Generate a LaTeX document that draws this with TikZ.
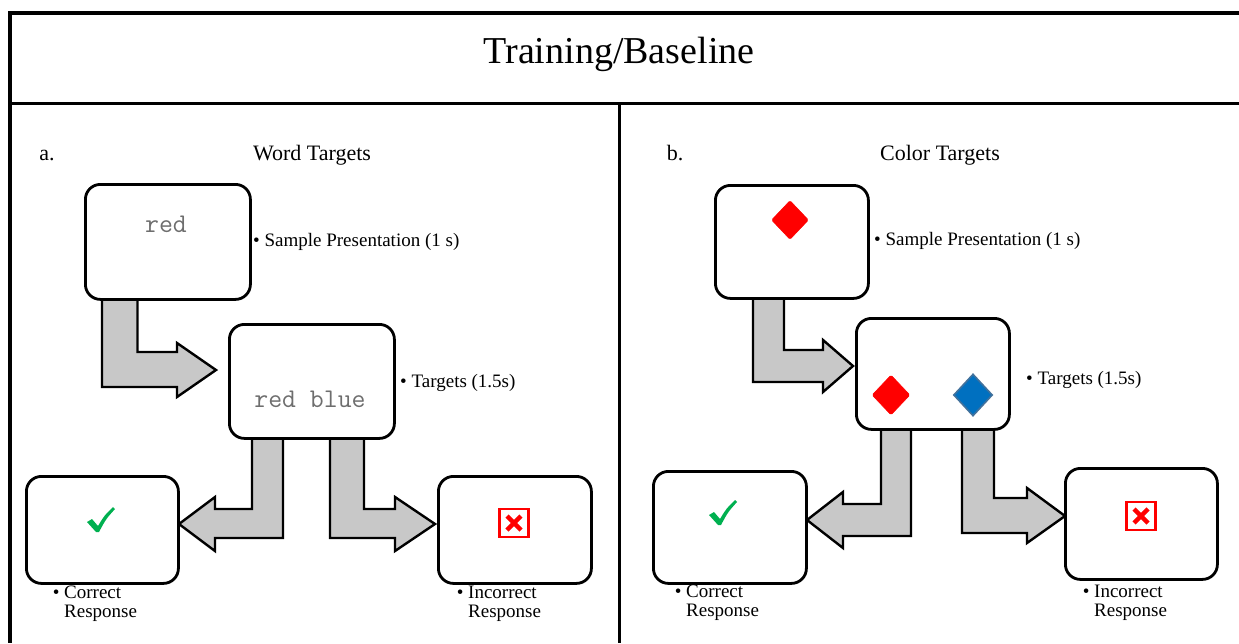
\documentclass[tikz,border=0pt]{standalone}
\usepackage{fontspec}
\setmainfont{Liberation Serif}
\usetikzlibrary{calc,shapes.geometric}
\definecolor{arrowgray}{RGB}{200,200,200}
\definecolor{wordgray}{RGB}{110,110,110}
\definecolor{checkgreen}{RGB}{0,176,80}
\definecolor{xred}{RGB}{255,0,0}
\definecolor{dblue}{RGB}{0,112,192}
\definecolor{dblueedge}{RGB}{65,113,156}
\begin{document}
\begin{tikzpicture}[x=1pt,y=-1pt,
  screen/.style={draw=black, line width=2.8pt, rounded corners=15pt, fill=white, anchor=north west, inner sep=0pt},
  blockarrow/.style={draw=black, line width=2.4pt, fill=arrowgray, line join=miter},
  frameline/.style={line width=3.7pt, line join=miter},
  lbl/.style={font=\fontsize{19}{19}\selectfont, anchor=base west, inner sep=0pt, align=left},
  head/.style={font=\fontsize{22}{22}\selectfont, anchor=base, inner sep=0pt},
  mono/.style={font=\ttfamily\fontsize{27}{27}\selectfont, text=wordgray, anchor=base, inner sep=0pt},
  xbox/.style={draw=xred, line width=2.5pt, fill=white, minimum width=29pt, minimum height=28pt, inner sep=0pt},
  xstroke/.style={draw=xred, line width=4.5pt},
  reddia/.style={diamond, fill=xred, inner sep=0pt, draw=xred, line width=0.5pt, rounded corners=1.5pt},
]
\useasboundingbox (0,0) rectangle (1239,643);

% frame
\draw[frameline] (1239,13) -- (10,13) -- (10,643);
\draw[frameline] (8,103.5) -- (1239,103.5);
\draw[line width=3pt] (619.5,103.5) -- (619.5,643);

% title and headings
\node[font=\fontsize{38}{38}\selectfont, anchor=base, inner sep=0pt] (title) at (619,63) {Training/Baseline};
\node[head] (la) at (47,160) {a.};
\node[head] (lword) at (312,160) {Word Targets};
\node[head] (lb) at (675,160) {b.};
\node[head] (lcolor) at (940,160) {Color Targets};

% ---------- left panel ----------
\draw[blockarrow] (102,297) -- (102,387) -- (177,387) -- (177,397) -- (216,370) -- (177,343) -- (177,352) -- (137.5,352) -- (137.5,297);
\draw[blockarrow] (252,437) -- (252,509) -- (215,509) -- (215,497) -- (179,524) -- (215,551) -- (215,538) -- (283,538) -- (283,437);
\draw[blockarrow] (330,437) -- (330,538) -- (395,538) -- (395,551) -- (435,524) -- (395,497) -- (395,509) -- (364,509) -- (364,437);

\node[screen, minimum width=165pt, minimum height=115pt] (s1) at (84,183) {};
\node[screen, minimum width=165pt, minimum height=114pt] (t1) at (228,323) {};
\node[screen, minimum width=152pt, minimum height=107pt] (c1) at (25,475) {};
\node[screen, minimum width=153pt, minimum height=107pt] (i1) at (437,475) {};

\node[mono] (s1txt) at (166,232) {red};
\node[mono] (t1txt) at (310,407) {red blue};

\node[inner sep=0pt, minimum size=26pt] (c1mark) at (101,520) {};
\fill[checkgreen] ($(c1mark.center)+(-14,2)$) -- ($(c1mark.center)+(-9,-1)$) -- ($(c1mark.center)+(-3,6)$)
  .. controls ($(c1mark.center)+(3,-4)$) .. ($(c1mark.center)+(12,-13)$) -- ($(c1mark.center)+(14,-11)$)
  .. controls ($(c1mark.center)+(5,-1)$) .. ($(c1mark.center)+(-2,12)$) -- ($(c1mark.center)+(-5,12)$) -- cycle;

\node[xbox] (i1mark) at (514,523) {};
\draw[xstroke] ($(i1mark.center)+(-7,-7)$) -- ($(i1mark.center)+(7,7)$);
\draw[xstroke] ($(i1mark.center)+(7,-7)$) -- ($(i1mark.center)+(-7,7)$);

\node[lbl] (s1lbl) at (253,246) {\textbullet\ Sample Presentation (1 s)};
\node[lbl] (t1lbl) at (400,387) {\textbullet\ Targets (1.5s)};
\node[lbl] (c1lbl) at (64,617) {\llap{\textbullet\ }Correct\\[0pt]Response};
\node[lbl] (i1lbl) at (468,617) {\llap{\textbullet\ }Incorrect\\[0pt]Response};

% ---------- right panel ----------
\draw[blockarrow] (753,297) -- (753,382) -- (823,382) -- (823,392) -- (853,366) -- (823,340) -- (823,350) -- (784,350) -- (784,297);
\draw[blockarrow] (911,428) -- (911,536) -- (843,536) -- (843,548) -- (807,520) -- (843,492) -- (843,504) -- (881,504) -- (881,428);
\draw[blockarrow] (962,428) -- (962,533) -- (1027,533) -- (1027,543) -- (1065,516) -- (1027,488) -- (1027,498) -- (994,498) -- (994,428);

\node[screen, minimum width=153pt, minimum height=113pt] (s2) at (714,184) {};
\node[screen, minimum width=153pt, minimum height=111pt] (t2) at (855,317) {};
\node[screen, minimum width=153pt, minimum height=112pt] (c2) at (652,470) {};
\node[screen, minimum width=152pt, minimum height=111pt] (i2) at (1064,467) {};

\node[reddia, minimum width=37pt, minimum height=39pt] (s2dia) at (790,220) {};
\node[reddia, minimum width=38pt, minimum height=40pt] (t2red) at (891,395) {};
\node[diamond, fill=dblue, draw=dblueedge, line width=1.6pt, inner sep=0pt, minimum width=39pt, minimum height=42pt] (t2blue) at (973,395) {};

\node[inner sep=0pt, minimum size=26pt] (c2mark) at (723,513) {};
\fill[checkgreen] ($(c2mark.center)+(-14,2)$) -- ($(c2mark.center)+(-9,-1)$) -- ($(c2mark.center)+(-3,6)$)
  .. controls ($(c2mark.center)+(3,-4)$) .. ($(c2mark.center)+(12,-13)$) -- ($(c2mark.center)+(14,-11)$)
  .. controls ($(c2mark.center)+(5,-1)$) .. ($(c2mark.center)+(-2,12)$) -- ($(c2mark.center)+(-5,12)$) -- cycle;

\node[xbox] (i2mark) at (1141,516) {};
\draw[xstroke] ($(i2mark.center)+(-7,-7)$) -- ($(i2mark.center)+(7,7)$);
\draw[xstroke] ($(i2mark.center)+(7,-7)$) -- ($(i2mark.center)+(-7,7)$);

\node[lbl] (s2lbl) at (874,245) {\textbullet\ Sample Presentation (1 s)};
\node[lbl] (t2lbl) at (1026,384) {\textbullet\ Targets (1.5s)};
\node[lbl] (c2lbl) at (686,616) {\llap{\textbullet\ }Correct\\[0pt]Response};
\node[lbl] (i2lbl) at (1094,616) {\llap{\textbullet\ }Incorrect\\[0pt]Response};
\end{tikzpicture}
\end{document}
